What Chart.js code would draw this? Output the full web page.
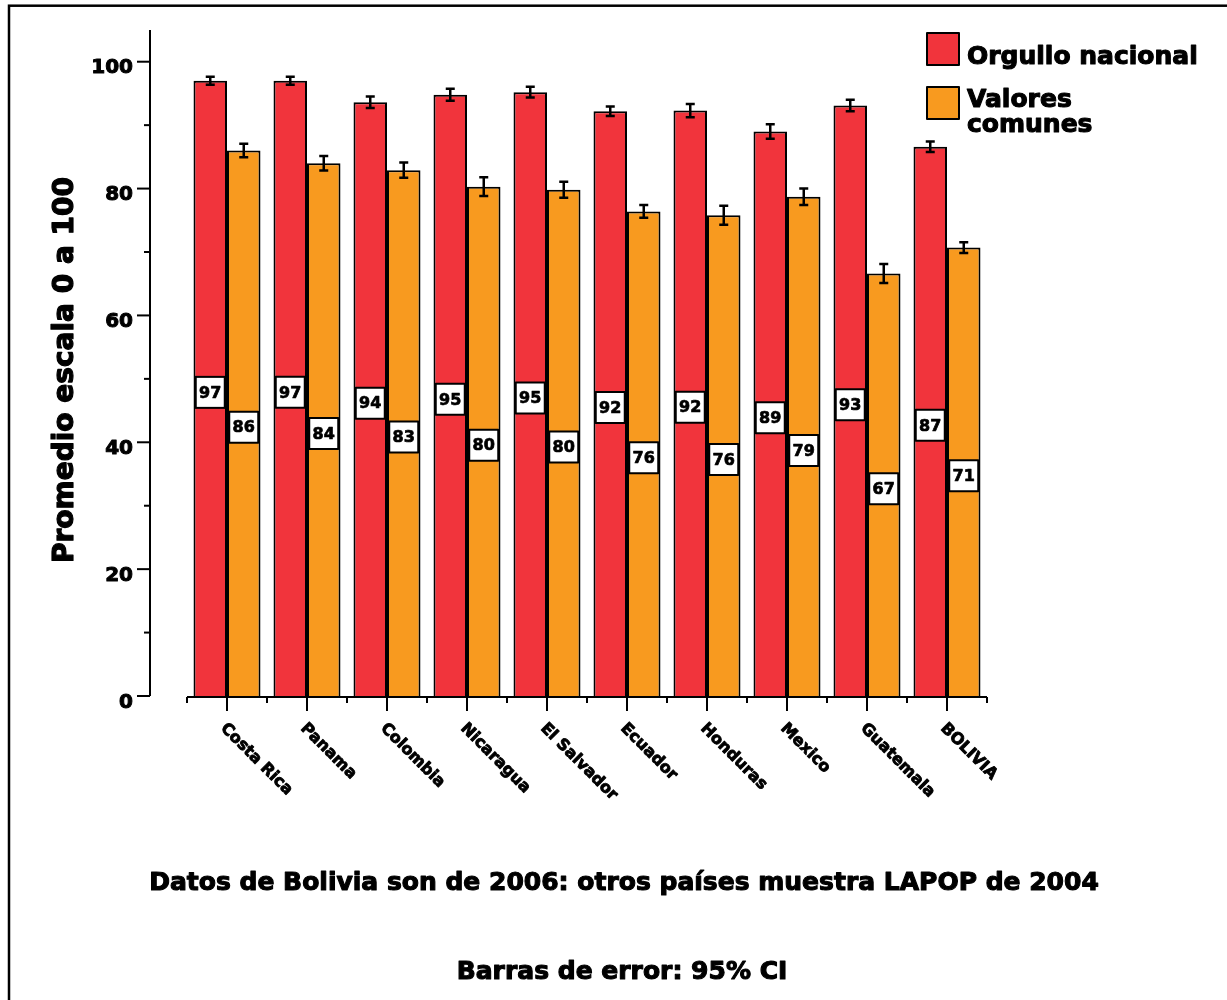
<!DOCTYPE html>
<html>
<head>
<meta charset="utf-8">
<script src="https://cdn.jsdelivr.net/npm/chart.js@4/dist/chart.umd.min.js"></script>
<style>
  html, body { margin: 0; padding: 0; background: #ffffff; }
  #wrap { width: 1227px; height: 1000px; position: relative; }
</style>
</head>
<body>
<div id="wrap"><canvas id="c" width="1227" height="1000"></canvas></div>
<script>
// ---- data ----
const categories = ['Costa Rica', 'Panama', 'Colombia', 'Nicaragua', 'El Salvador', 'Ecuador', 'Honduras', 'Mexico', 'Guatemala', 'BOLIVIA'];
const orgulloNacional = [97.0, 97.0, 93.6, 94.8, 95.2, 92.2, 92.3, 89.0, 93.1, 86.6];
const valoresComunes = [86.0, 84.0, 82.9, 80.3, 79.8, 76.4, 75.8, 78.7, 66.6, 70.7];
const orgulloCI = [0.63, 0.63, 0.9, 0.95, 0.84, 0.74, 1.05, 1.15, 0.9, 0.84];
const valoresCI = [1.05, 1.15, 1.2, 1.47, 1.26, 1.0, 1.5, 1.3, 1.5, 0.84];
const yMajorTicks = [0, 20, 40, 60, 80, 100];
const yMinorTicks = [10, 30, 50, 70, 90];
const seriesNames = ['Orgullo nacional', 'Valores\ncomunes'];
const yTitle = 'Promedio escala 0 a 100';
const note1 = 'Datos de Bolivia son de 2006: otros países muestra LAPOP de 2004';
const note2 = 'Barras de error: 95% CI';

const RED = '#f1343c';
const ORANGE = '#f89a1f';
const FONT = '"DejaVu Sans", Verdana, sans-serif';

// heavy text helper (fill + thin stroke to mimic a black-weight face)
function heavyText(ctx, txt, x, y, sw) {
  ctx.lineWidth = sw;
  ctx.lineJoin = 'round';
  ctx.strokeStyle = '#000';
  ctx.strokeText(txt, x, y);
  ctx.fillText(txt, x, y);
}

const drawPlugin = {
  id: 'custom',
  afterDatasetsDraw(chart) {
    const ctx = chart.ctx;
    const x = chart.scales.x, y = chart.scales.y;
    ctx.save();
    // error bars
    const cis = [orgulloCI, valoresCI];
    const vals = [orgulloNacional, valoresComunes];
    ctx.strokeStyle = '#000';
    ctx.lineWidth = 2.5;
    for (let d = 0; d < 2; d++) {
      const meta = chart.getDatasetMeta(d);
      meta.data.forEach((bar, i) => {
        const v = vals[d][i], e = cis[d][i];
        const yt = y.getPixelForValue(v + e), yb = y.getPixelForValue(v - e);
        ctx.beginPath();
        ctx.moveTo(bar.x, yt); ctx.lineTo(bar.x, yb);
        ctx.moveTo(bar.x - 4.5, yt); ctx.lineTo(bar.x + 4.5, yt);
        ctx.moveTo(bar.x - 4.5, yb); ctx.lineTo(bar.x + 4.5, yb);
        ctx.stroke();
      });
    }
    // value boxes
    ctx.font = 'bold 16px ' + FONT;
    ctx.textAlign = 'center';
    ctx.textBaseline = 'middle';
    for (let d = 0; d < 2; d++) {
      const meta = chart.getDatasetMeta(d);
      meta.data.forEach((bar, i) => {
        const v = vals[d][i];
        const cy = y.getPixelForValue(v / 2) + 4;
        const cx = bar.x;
        const w = 29, h = 31;
        ctx.fillStyle = '#fff';
        ctx.fillRect(cx - w / 2, cy - h / 2, w, h);
        ctx.lineWidth = 2;
        ctx.strokeStyle = '#000';
        ctx.strokeRect(cx - w / 2, cy - h / 2, w, h);
        ctx.fillStyle = '#000';
        heavyText(ctx, String(Math.round(v)), cx, cy + 1, 0.7);
      });
    }
    ctx.restore();
  },
  afterDraw(chart) {
    const ctx = chart.ctx;
    const x = chart.scales.x, y = chart.scales.y;
    const area = chart.chartArea;
    ctx.save();
    ctx.strokeStyle = '#000';
    ctx.fillStyle = '#000';
    // frame
    ctx.lineWidth = 2.5;
    ctx.strokeRect(9, 5.7, 1400, 1200);
    // y axis
    const axX = 150;
    ctx.lineWidth = 2;
    ctx.beginPath();
    ctx.moveTo(axX, y.getPixelForValue(y.max));
    ctx.lineTo(axX, y.getPixelForValue(0));
    ctx.stroke();
    ctx.font = 'bold 20px ' + FONT;
    ctx.textAlign = 'right';
    ctx.textBaseline = 'middle';
    yMajorTicks.forEach(t => {
      const py = y.getPixelForValue(t);
      ctx.lineWidth = 2;
      ctx.beginPath(); ctx.moveTo(axX - 13, py); ctx.lineTo(axX, py); ctx.stroke();
      heavyText(ctx, String(t), 133, py + 6.5, 1);
    });
    yMinorTicks.forEach(t => {
      const py = y.getPixelForValue(t);
      ctx.lineWidth = 2;
      ctx.beginPath(); ctx.moveTo(axX - 6, py); ctx.lineTo(axX, py); ctx.stroke();
    });
    // y title
    ctx.save();
    ctx.translate(66, (y.getPixelForValue(0) + y.getPixelForValue(105)) / 2 + 7);
    ctx.rotate(-Math.PI / 2);
    ctx.font = 'bold 28px ' + FONT;
    ctx.textAlign = 'center';
    ctx.textBaseline = 'middle';
    heavyText(ctx, yTitle, 0, 0, 1.2);
    ctx.restore();
    // x axis
    const axY = y.getPixelForValue(0) + 1;
    ctx.lineWidth = 2;
    ctx.beginPath();
    ctx.moveTo(area.left, axY); ctx.lineTo(area.right, axY);
    ctx.stroke();
    const n = categories.length;
    for (let i = 0; i < n; i++) {
      const px = x.getPixelForValue(i);
      ctx.beginPath(); ctx.moveTo(px, axY); ctx.lineTo(px, axY + 14); ctx.stroke();
    }
    for (let i = 0; i <= n; i++) {
      const px = x.getPixelForValue(i - 0.5);
      ctx.beginPath(); ctx.moveTo(px, axY); ctx.lineTo(px, axY + 6); ctx.stroke();
    }
    ctx.font = 'bold 16px ' + FONT;
    ctx.textAlign = 'left';
    ctx.textBaseline = 'middle';
    categories.forEach((c, i) => {
      const px = x.getPixelForValue(i);
      ctx.save();
      ctx.translate(px - 4, axY + 29);
      ctx.rotate(Math.PI / 4);
      heavyText(ctx, c, 0, 0, 0.9);
      ctx.restore();
    });
    // legend
    const boxes = [[927, 33, RED], [927, 87, ORANGE]];
    ctx.lineWidth = 2;
    boxes.forEach(b => {
      ctx.fillStyle = b[2];
      ctx.fillRect(b[0], b[1], 32, 32);
      ctx.strokeRect(b[0], b[1], 32, 32);
    });
    ctx.fillStyle = '#000';
    ctx.font = 'bold 25px ' + FONT;
    ctx.textAlign = 'left';
    ctx.textBaseline = 'middle';
    heavyText(ctx, seriesNames[0], 967, 57, 1.1);
    const l2 = seriesNames[1].split('\n');
    heavyText(ctx, l2[0], 967, 100, 1.1);
    heavyText(ctx, l2[1], 967, 125, 1.1);
    // notes
    ctx.textAlign = 'center';
    ctx.font = 'bold 25px ' + FONT;
    heavyText(ctx, note1, 624, 883, 1.1);
    heavyText(ctx, note2, 622, 972, 1.1);
    ctx.restore();
  }
};

new Chart(document.getElementById('c'), {
  type: 'bar',
  data: {
    labels: categories,
    datasets: [
      { label: 'Orgullo nacional', data: orgulloNacional, backgroundColor: RED, borderColor: '#000', borderWidth: 2, borderSkipped: 'bottom' },
      { label: 'Valores comunes', data: valoresComunes, backgroundColor: ORANGE, borderColor: '#000', borderWidth: 2, borderSkipped: 'bottom' }
    ]
  },
  options: {
    responsive: false,
    animation: false,
    devicePixelRatio: 1,
    layout: { padding: { left: 0, top: 30, right: 240, bottom: 0 } },
    plugins: { legend: { display: false }, tooltip: { enabled: false } },
    datasets: { bar: { categoryPercentage: 0.8375, barPercentage: 1.0 } },
    scales: {
      x: {
        grid: { display: false }, border: { display: false },
        ticks: { display: false },
        afterFit(s) { s.height = 304; }
      },
      y: {
        min: 0, max: 105,
        grid: { display: false }, border: { display: false },
        ticks: { display: false },
        afterFit(s) { s.width = 187; }
      }
    }
  },
  plugins: [drawPlugin]
});
</script>
</body>
</html>
